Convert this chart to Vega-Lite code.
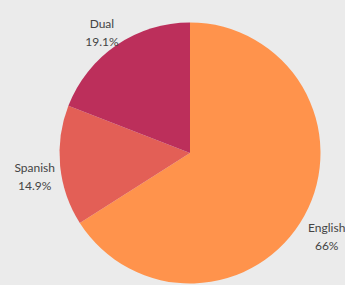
{
  "$schema": "https://vega.github.io/schema/vega-lite/v6.json",
  "width": 310,
  "height": 264,
  "padding": {"left": 35, "top": 21, "right": 0, "bottom": 0},
  "autosize": {"type": "none"},
  "background": "#EBEBEB",
  "config": {"view": {"stroke": null}},
  "data": {
    "values": [
      {"language": "English", "share": 66.0, "label": "66%", "order": 1},
      {"language": "Spanish", "share": 14.9, "label": "14.9%", "order": 2},
      {"language": "Dual", "share": 19.1, "label": "19.1%", "order": 3}
    ]
  },
  "encoding": {
    "theta": {"field": "share", "type": "quantitative", "stack": true},
    "order": {"field": "order", "type": "quantitative"}
  },
  "layer": [
    {
      "mark": {"type": "arc", "outerRadius": 130.5, "stroke": null},
      "encoding": {
        "color": {
          "field": "language",
          "type": "nominal",
          "scale": {"domain": ["English", "Spanish", "Dual"], "range": ["#FF934C", "#E35F56", "#BC2F5B"]},
          "legend": null
        }
      }
    },
    {
      "transform": [{"calculate": "[datum.language, datum.label]", "as": "txt"}],
      "mark": {"type": "text", "radius": 156, "font": "Lato", "fontSize": 12, "color": "#444444", "lineHeight": 18, "baseline": "middle", "align": "center"},
      "encoding": {"text": {"field": "txt"}}
    }
  ]
}
